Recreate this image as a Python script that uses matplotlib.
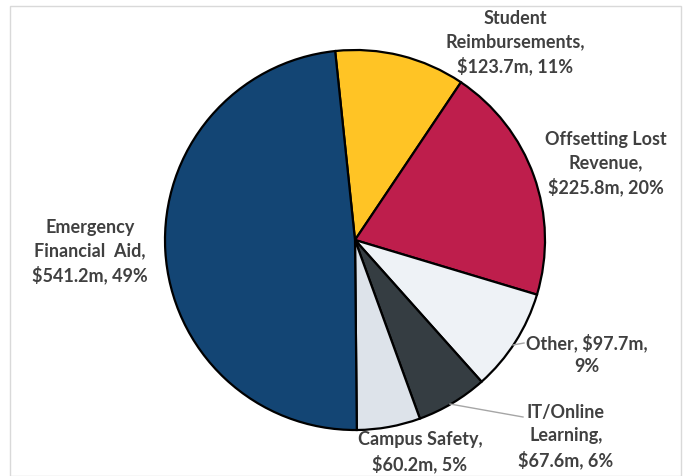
import matplotlib
matplotlib.use("Agg")
import matplotlib.pyplot as plt
from matplotlib.patches import Rectangle

categories = ["Student\nReimbursements", "Offsetting Lost\nRevenue", "Other", "IT/Online\nLearning",
              "Campus Safety", "Emergency\nFinancial  Aid"]
values = [123.7, 225.8, 97.7, 67.6, 60.2, 541.2]
percents = [11, 20, 9, 6, 5, 49]
colors = ["#FFC425", "#BE1E4C", "#EEF2F6", "#353D42", "#DDE3EA", "#134574"]

W, H = 683, 476
fig = plt.figure(figsize=(W / 100, H / 100), dpi=100)
fig.patch.set_facecolor("white")
fig.patches.append(Rectangle((10 / W, 0), (W - 12) / W, (H - 6) / H, transform=fig.transFigure,
                             fill=False, edgecolor="#D9D9D9", linewidth=1.0))

cx, cy, r = 355, 240, 190
ax = fig.add_axes([(cx - r) / W, (H - cy - r) / H, 2 * r / W, 2 * r / H])
ax.pie(values, colors=colors, startangle=96, counterclock=False, radius=1.0,
       wedgeprops=dict(edgecolor="black", linewidth=1.6))
ax.set_xlim(-1, 1)
ax.set_ylim(-1, 1)
ax.set_aspect("equal")
ax.axis("off")

def P(px, py):
    return ((px - cx) / r, (cy - py) / r)

labels = [
    "Student\nReimbursements,\n$123.7m, 11%",
    "Offsetting Lost\nRevenue,\n$225.8m, 20%",
    "Other, $97.7m,\n9%",
    "IT/Online\nLearning,\n$67.6m, 6%",
    "Campus Safety,\n$60.2m, 5%",
    "Emergency\nFinancial  Aid,\n$541.2m, 49%",
]
positions = [(515, 43), (606, 164), (587, 354), (566, 437), (420, 452), (90, 252)]
for lab, (px, py) in zip(labels, positions):
    x, y = P(px, py)
    ax.text(x, y, lab, ha="center", va="center", fontsize=13, fontweight="bold",
            color="#404040", family="Lato", linespacing=1.42, clip_on=False)

# leader lines
for (p0, p1) in [((513, 345), (524, 343)), ((450, 404), (523, 417))]:
    x0, y0 = P(*p0)
    x1, y1 = P(*p1)
    ax.plot([x0, x1], [y0, y1], color="#A6A6A6", linewidth=1.0, clip_on=False)

fig.savefig("out.png", dpi=100)
